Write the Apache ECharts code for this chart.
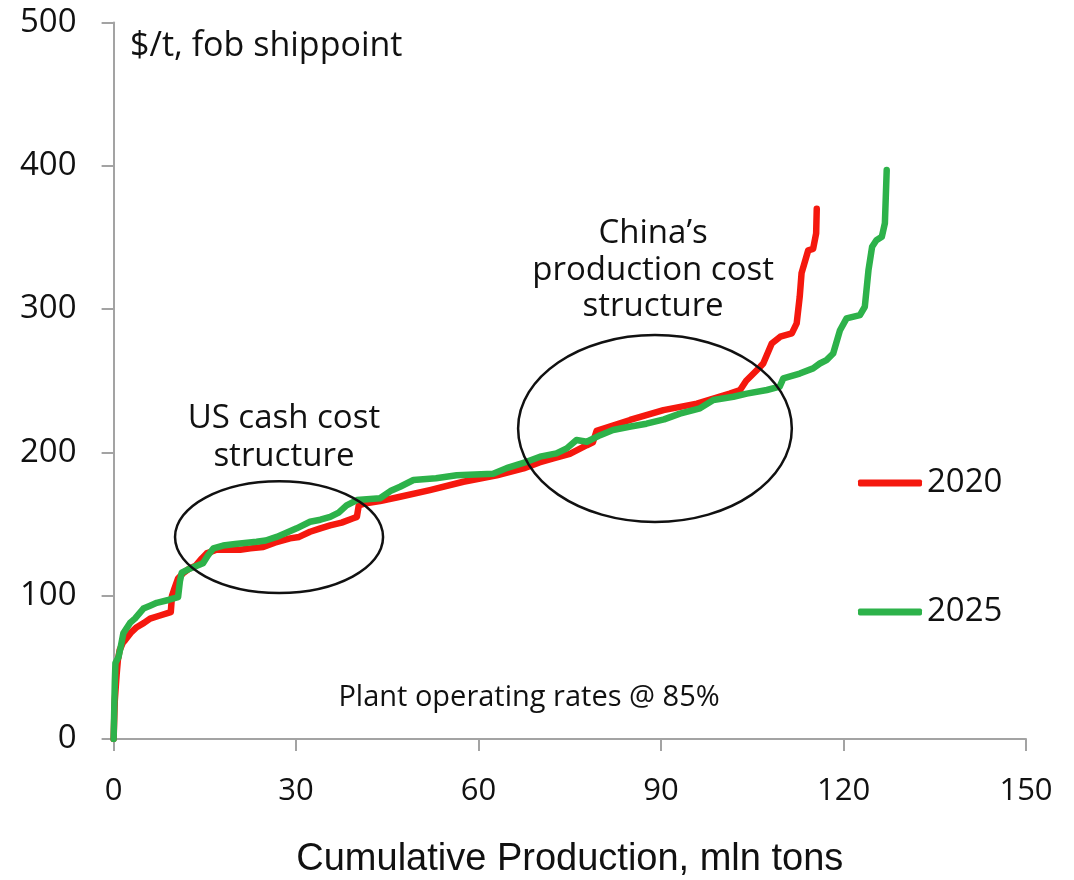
<!DOCTYPE html>
<html>
<head>
<meta charset="utf-8">
<script src="https://cdn.jsdelivr.net/npm/echarts@6/dist/echarts.min.js"></script>
<style>
  html, body { margin: 0; padding: 0; background: #ffffff; }
  #chart { width: 1074px; height: 880px; }
</style>
</head>
<body>
<div id="chart"></div>
<script>
// Tick values of both axes
const xTicks = [0, 30, 60, 90, 120, 150];
const yTicks = [0, 100, 200, 300, 400, 500];

// Series names
const seriesNames = ['2020', '2025'];

// Cost curve 2020: [cumulative production (mln t), cash cost ($/t)]
const curve2020 = [
  [0, 0], [0.2, 27], [0.5, 45], [0.7, 55], [1.0, 62], [1.5, 67], [1.9, 69],
  [2.8, 74], [3.8, 78], [5.0, 81], [6.0, 84], [7.5, 86], [9.0, 88], [9.4, 88.5],
  [9.6, 100], [10.0, 105], [10.6, 112], [11.5, 116], [12.5, 119], [13.5, 121],
  [14.5, 126], [15.3, 129.5], [16.9, 132], [20.8, 132], [22.5, 133], [24.6, 134],
  [26.5, 137], [29, 140], [30.5, 141], [32.3, 144.6], [34, 147], [35.6, 149],
  [37.5, 151], [39.4, 154], [40.0, 155], [40.3, 163], [41.5, 164.5], [43.8, 166],
  [47.1, 169], [52, 173.7], [57.5, 179.5], [63, 184], [67.4, 188.8], [70, 193],
  [72.3, 195.8], [75, 199], [77.8, 205], [78.8, 207], [79.4, 215], [84.9, 222.6],
  [90.4, 229.5], [95.9, 234], [101.3, 241], [103, 243.5], [104, 250], [105.2, 255],
  [106.3, 259.7], [106.8, 262], [108.2, 276], [109.6, 280.7], [111.5, 283],
  [112.3, 290], [112.8, 308.6], [113.1, 325], [114.2, 341], [115, 342],
  [115.5, 352.8], [115.6, 370]
];

// Cost curve 2025
const curve2025 = [
  [0, 0], [0.2, 40], [0.3, 53], [0.8, 57], [1.2, 65], [1.6, 73.7], [2.7, 81],
  [3.5, 84], [4.9, 91], [6, 93], [7.1, 95], [9.0, 97], [10.6, 99], [10.9, 110],
  [11.2, 116], [12.6, 119], [14.7, 122.6], [15.5, 128], [16.4, 133], [18, 135],
  [20, 136], [23.5, 137.6], [25, 138.5], [26.8, 141], [28.5, 144], [30.1, 147],
  [32.3, 151.6], [34, 153], [35.6, 155], [37, 158], [38.3, 163], [40, 166.7],
  [43.8, 168], [45.5, 173], [47.1, 176], [49.3, 180.7], [53, 182], [56.4, 184],
  [62.4, 185], [64.6, 189], [67.9, 193.4], [70.1, 197], [72.8, 199.3],
  [74.5, 202.8], [76.1, 208.6], [77.8, 207.4], [80, 212], [82.1, 215.6],
  [85, 218], [87.6, 220], [90.5, 223], [93.1, 227], [96.4, 230.7], [98.6, 236.5],
  [101.9, 238.8], [104.1, 241], [107.4, 243.5], [109.5, 245.8], [110.1, 251.6],
  [112.8, 255], [115, 258.6], [116.1, 262], [117.2, 264.4], [118.3, 269],
  [119.4, 285], [120.5, 293.5], [122.7, 295.8], [123.5, 301.6], [124.1, 327],
  [124.7, 343.5], [125.4, 348], [126.3, 350.5], [126.8, 359.8], [127.1, 397]
];

// Annotation texts
const unitLabel = '$/t, fob shippoint';
const xAxisTitle = 'Cumulative Production, mln tons';
const usNote = ['US cash cost', 'structure'];
const chinaNote = ['China\u2019s', 'production cost', 'structure'];
const rateNote = 'Plant operating rates @ 85%';

const FONT = '"Open Sans", "Noto Sans", sans-serif';
const INK = '#111111';
const AXIS_GREY = '#a3a3a3';
const COLORS = ['#f5180e', '#2db24a'];

const chart = echarts.init(document.getElementById('chart'), null, { renderer: 'canvas' });

const option = {
  backgroundColor: '#ffffff',
  animation: false,
  grid: {
    left: 113.6, right: 48, top: 22.4, bottom: 141,
    outerBoundsMode: 'none'
  },
  xAxis: {
    type: 'value',
    min: xTicks[0],
    max: xTicks[xTicks.length - 1],
    interval: xTicks[1] - xTicks[0],
    name: xAxisTitle,
    nameLocation: 'middle',
    nameGap: 102,
    nameTextStyle: { fontFamily: '"Liberation Sans", Arial, sans-serif', fontSize: 38, color: INK },
    axisLine: { show: true, lineStyle: { color: AXIS_GREY, width: 2 } },
    axisTick: { show: true, length: 12, lineStyle: { color: AXIS_GREY, width: 2 } },
    axisLabel: { fontFamily: FONT, fontSize: 31, color: INK, margin: 37 },
    splitLine: { show: false }
  },
  yAxis: {
    type: 'value',
    min: yTicks[0],
    max: yTicks[yTicks.length - 1],
    interval: yTicks[1] - yTicks[0],
    axisLine: { show: true, lineStyle: { color: AXIS_GREY, width: 2 } },
    axisTick: { show: true, length: 12, lineStyle: { color: AXIS_GREY, width: 2 } },
    axisLabel: { fontFamily: FONT, fontSize: 33, color: INK, margin: 37 },
    splitLine: { show: false }
  },
  legend: {
    data: seriesNames,
    orient: 'vertical',
    left: 858,
    top: 463,
    padding: 0,
    itemWidth: 64,
    itemHeight: 7,
    itemGap: 89,
    icon: 'roundRect',
    textStyle: { fontFamily: FONT, fontSize: 33, color: INK, lineHeight: 40 }
  },
  series: [
    {
      name: seriesNames[0],
      type: 'line',
      data: curve2020,
      showSymbol: false,
      symbol: 'none',
      smooth: false,
      color: COLORS[0],
      lineStyle: { color: COLORS[0], width: 6.5, cap: 'round', join: 'round' },
      z: 2
    },
    {
      name: seriesNames[1],
      type: 'line',
      data: curve2025,
      showSymbol: false,
      symbol: 'none',
      smooth: false,
      color: COLORS[1],
      lineStyle: { color: COLORS[1], width: 6.5, cap: 'round', join: 'round' },
      z: 3
    }
  ]
};

chart.setOption(option);

// Annotation placement in data units (x: mln t, y: $/t)
const annot = {
  usOval: { c: [27.2, 140.9], rx: 17.1, ry: 39.0 },
  chinaOval: { c: [89.0, 216.6], rx: 22.5, ry: 65.2 },
  usText: { c: [28.0, 210.0], lineGap: 26.5 },
  chinaText: { c: [88.7, 327.0], lineGap: 25.5 },
  rateText: { c: [68.3, 28.5] },
  unitText: { p: [2.7, 483.5] }
};

function px(p) { return chart.convertToPixel({ gridIndex: 0 }, p); }
function dx(v) { return px([v, 0])[0] - px([0, 0])[0]; }
function dy(v) { return px([0, 0])[1] - px([0, v])[1]; }

function oval(a) {
  const c = px(a.c);
  return {
    type: 'ellipse',
    shape: { cx: c[0], cy: c[1], rx: dx(a.rx), ry: dy(a.ry) },
    style: { fill: 'none', stroke: INK, lineWidth: 2.5 },
    z: 10
  };
}

function lines(a, texts, size) {
  const c = px(a.c);
  const step = dy(a.lineGap);
  const n = texts.length;
  return texts.map((t, i) => ({
    type: 'text',
    x: c[0],
    y: c[1] + (i - (n - 1) / 2) * step,
    style: {
      text: t, fill: INK, font: size + 'px ' + FONT,
      textAlign: 'center', textVerticalAlign: 'middle'
    },
    z: 10
  }));
}

const rc = px(annot.rateText.c);
const uc = px(annot.unitText.p);

chart.setOption({
  graphic: [
    oval(annot.usOval),
    oval(annot.chinaOval),
    ...lines(annot.usText, usNote, 33),
    ...lines(annot.chinaText, chinaNote, 33),
    {
      type: 'text', x: rc[0], y: rc[1],
      style: { text: rateNote, fill: INK, font: '29px ' + FONT, textAlign: 'center', textVerticalAlign: 'middle' },
      z: 10
    },
    {
      type: 'text', x: uc[0], y: uc[1],
      style: { text: unitLabel, fill: INK, font: '34px ' + FONT, textAlign: 'left', textVerticalAlign: 'middle' },
      z: 10
    }
  ]
});
</script>
</body>
</html>
